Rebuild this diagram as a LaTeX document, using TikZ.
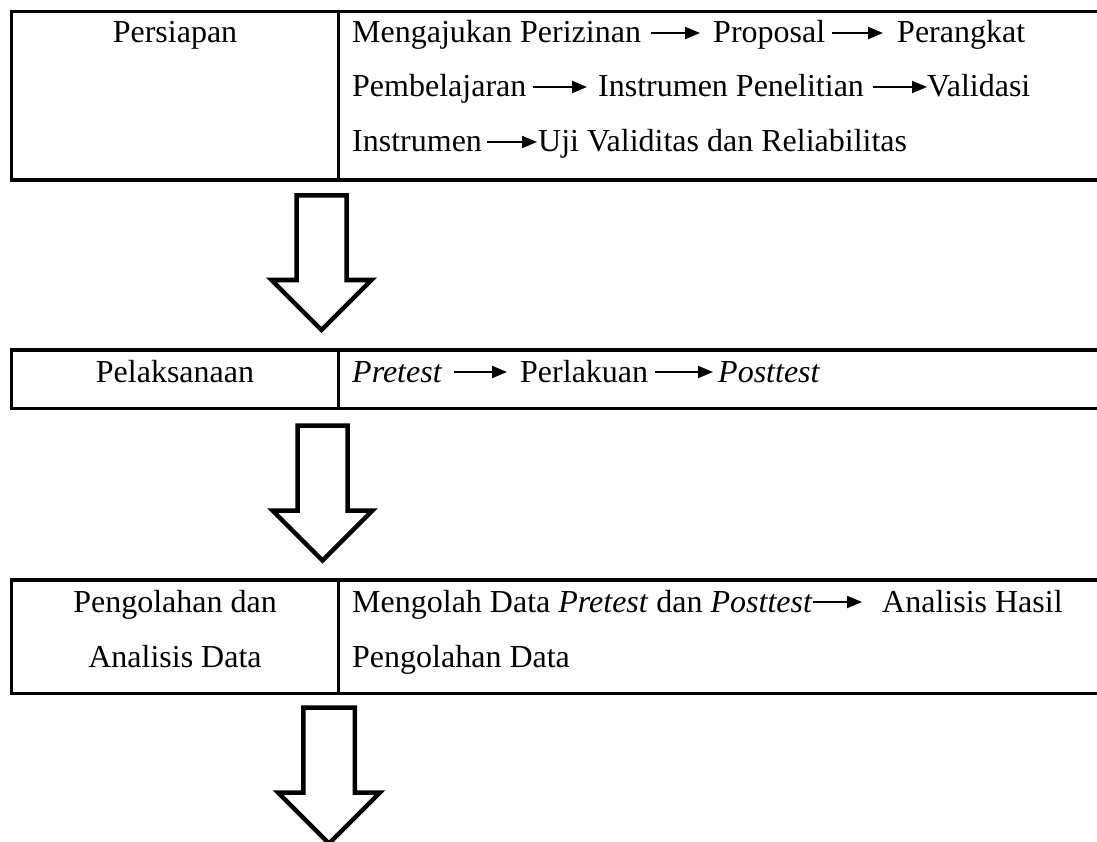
\documentclass[tikz,border=0pt]{standalone}
\usepackage{fontspec}
\setmainfont{Liberation Serif}
\usetikzlibrary{arrows.meta}
\newcommand\blockarr[6]{%
  \draw[bigarrow] ({#1-#5},#2) -- ({#1+#5},#2) -- ({#1+#5},#3) -- ({#1+#6},#3)
    -- (#1,#4) -- ({#1-#6},#3) -- ({#1-#5},#3) -- cycle;}
\begin{document}
\begin{tikzpicture}[x=1pt,y=-1pt,
  tbl/.style={line width=3.6pt},
  bigarrow/.style={draw=black, fill=white, line width=4.5pt, line join=miter},
  txt/.style={inner sep=0pt, anchor=base west, font=\fontsize{32}{54}\selectfont},
  lbl/.style={inner sep=0pt, anchor=base, font=\fontsize{32}{54}\selectfont},
  flow/.style={line width=2pt, -{Triangle[length=15pt,width=12pt]}}]
\useasboundingbox (0,0) rectangle (1097,842);

% ---- table rows
\draw[tbl] (1097,11.7) -- (11.5,11.7) -- (11.5,180) -- (1097,180);
\draw[tbl] (338.5,11.7) -- (338.5,180);
\draw[tbl] (1097,350) -- (11.5,350) -- (11.5,408.3) -- (1097,408.3);
\draw[tbl] (338.5,350) -- (338.5,408.3);
\draw[tbl] (1097,580) -- (11.5,580) -- (11.5,693.5) -- (1097,693.5);
\draw[tbl] (338.5,580) -- (338.5,693.5);

% ---- left cells
\node[lbl] (persiapan) at (175,43) {Persiapan};
\node[lbl] (pelaksanaan) at (175,382) {Pelaksanaan};
\node[lbl] (pengolahan) at (175,612) {Pengolahan dan};
\node[lbl] (analisis) at (175,667) {Analisis Data};

% ---- row 1 right cell
\node[txt] (n11) at (352,43) {Mengajukan Perizinan};
\node[txt] (n12) at (713,43) {Proposal};
\node[txt] (n13) at (897,43) {Perangkat};
\node[txt] (n21) at (352,97) {Pembelajaran};
\node[txt] (n22) at (598,97) {Instrumen Penelitian};
\node[txt] (n23) at (927,97) {Validasi};
\node[txt] (n31) at (352,152) {Instrumen};
\node[txt] (n32) at (538,152) {Uji Validitas dan Reliabilitas};
\draw[flow] ([shift={(10,-10)}]n11.base east) -- ([shift={(-13,-10)}]n12.base west);
\draw[flow] ([shift={(7,-10)}]n12.base east) -- ([shift={(-14,-10)}]n13.base west);
\draw[flow] ([shift={(6,-10)}]n21.base east) -- ([shift={(-11,-10)}]n22.base west);
\draw[flow] ([shift={(9,-10)}]n22.base east) -- ([shift={(0,-10)}]n23.base west);
\draw[flow] ([shift={(5,-10)}]n31.base east) -- ([shift={(-1,-10)}]n32.base west);

% ---- row 2 right cell
\node[txt] (p1) at (352,382) {\itshape Pretest};
\node[txt] (p2) at (520,382) {Perlakuan};
\node[txt] (p3) at (718,382) {\itshape Posttest};
\draw[flow] ([shift={(12,-10)}]p1.base east) -- ([shift={(-13,-10)}]p2.base west);
\draw[flow] ([shift={(7,-10)}]p2.base east) -- ([shift={(-5,-10)}]p3.base west);

% ---- row 3 right cell
\node[txt] (q1) at (352,612) {Mengolah Data \textit{Pretest} dan \textit{Posttest}};
\node[txt] (q2) at (882,612) {Analisis Hasil};
\node[txt] (q3) at (352,667) {Pengolahan Data};
\draw[flow] ([shift={(0,-10)}]q1.base east) -- ([shift={(-20,-10)}]q2.base west);

% ---- block arrows
\blockarr{321.5}{195.3}{280}{330}{25}{50}
\blockarr{322.5}{425.5}{510.5}{560.5}{25}{50}
\blockarr{329}{707.5}{792.5}{843.5}{25.75}{51}
\end{tikzpicture}
\end{document}
